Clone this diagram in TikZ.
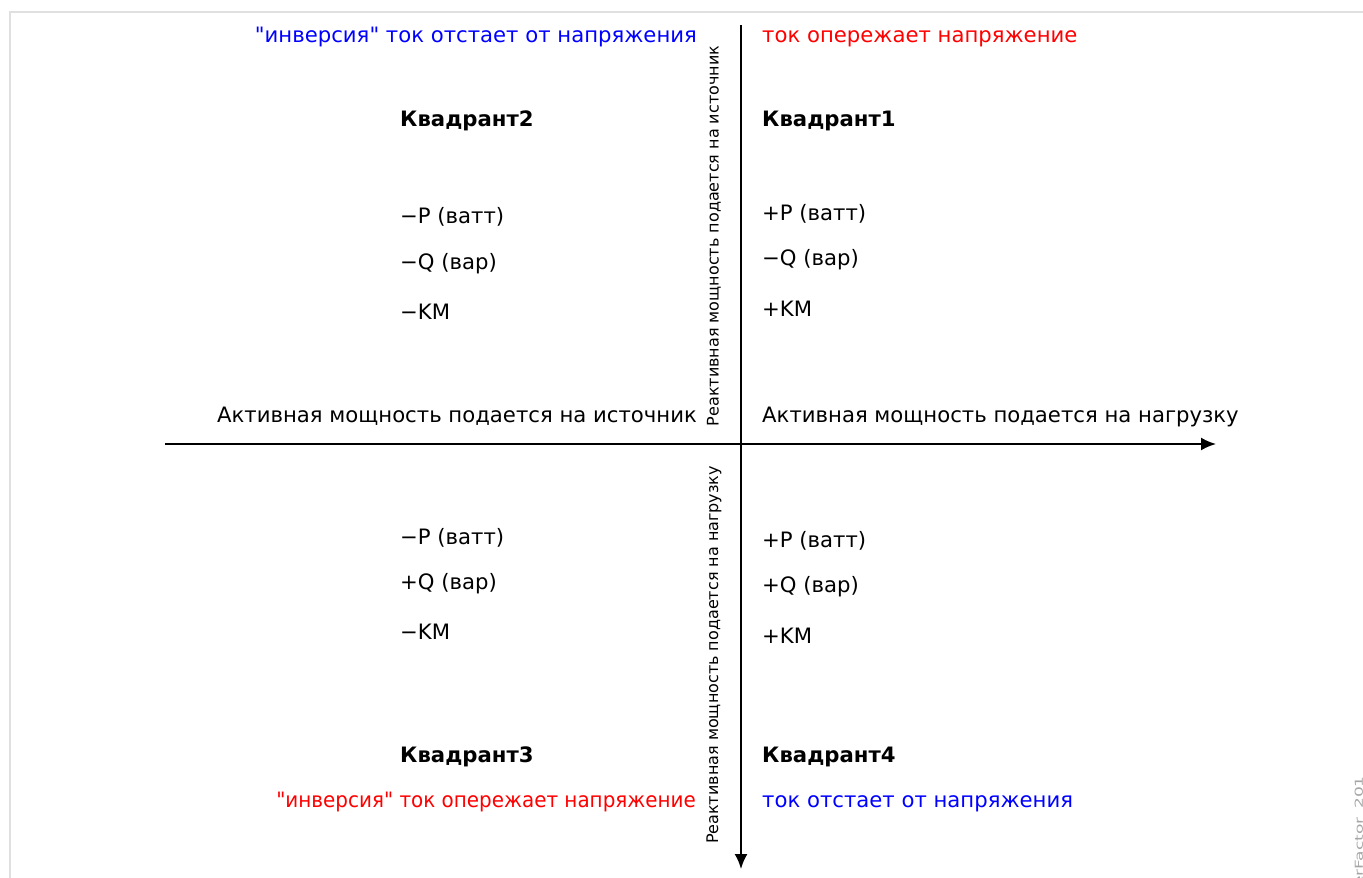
\documentclass[tikz,border=0pt]{standalone}
\usepackage{graphicx}
\usepackage{fontspec}
\setmainfont{DejaVu Sans}[Ligatures=TeXOff]
\usetikzlibrary{arrows.meta, positioning}

\begin{document}
\begin{tikzpicture}[
      x=1pt, y=-1pt,
      lbl/.style={font=\fontsize{21.2}{25}\selectfont, inner sep=0pt},
      quad/.style={font=\fontsize{21.2}{25}\selectfont\bfseries, inner sep=0pt},
      axlbl/.style={font=\fontsize{16}{19}\selectfont, inner sep=0pt, rotate=90},
      axis/.style={-{Latex[length=15pt,width=13pt]}, line width=2pt}
    ]
    \useasboundingbox (0,0) rectangle (1363,878);
    \draw[black!12, line width=2pt] (10,12) rectangle (1400,920);
    \node[font=\fontsize{11}{12}\selectfont, text=black!35, inner sep=0pt, rotate=90, anchor=east] (tag) at (1360,776) {\scalebox{1.55}[1]{PowerFactor\_201}};

    \coordinate (xstart) at (165,444);
    \coordinate (xend) at (1216,444);
    \coordinate (ystart) at (741,25);
    \coordinate (yend) at (741,869);
    \draw[axis] (xstart) -- (xend);
    \draw[axis] (ystart) -- (yend);

    \node[axlbl] (srcq) at (714,236) {Реактивная мощность подается на источник};
    \node[axlbl] (loadq) at (714,655) {Реактивная мощность подается на нагрузку};
    \node[lbl, anchor=base east] (srcp) at (697,422) {Активная мощность подается на источник};
    \node[lbl, anchor=base west] (loadp) at (762,422) {Активная мощность подается на нагрузку};

    \node[lbl, anchor=base east, text=blue] (note2) at (697,42) {"инверсия" ток отстает от напряжения};
    \node[lbl, anchor=base west, text=red] (note1) at (762,42) {ток опережает напряжение};
    \node[lbl, anchor=base east, text=red] (note3) at (696,807) {\scalebox{0.94}[1]{"инверсия" ток опережает напряжение}};
    \node[lbl, anchor=base west, text=blue] (note4) at (762,807) {ток отстает от напряжения};

    \node[quad, anchor=base west] (q1) at (762,126) {Квадрант1};
    \node[quad, anchor=base west] (q2) at (400,126) {Квадрант2};
    \node[quad, anchor=base west] (q3) at (400,762) {Квадрант3};
    \node[quad, anchor=base west] (q4) at (762,762) {Квадрант4};

    \node[lbl, anchor=base west] (p1) at (762,220) {+P (ватт)};
    \node[lbl, anchor=base west] (r1) at (762,265) {−Q (вар)};
    \node[lbl, anchor=base west] (k1) at (762,316) {+KM};
    \node[lbl, anchor=base west] (p2) at (400,223) {−P (ватт)};
    \node[lbl, anchor=base west] (r2) at (400,269) {−Q (вар)};
    \node[lbl, anchor=base west] (k2) at (400,319) {−KM};
    \node[lbl, anchor=base west] (p3) at (400,544) {−P (ватт)};
    \node[lbl, anchor=base west] (r3) at (400,589) {+Q (вар)};
    \node[lbl, anchor=base west] (k3) at (400,639) {−KM};
    \node[lbl, anchor=base west] (p4) at (762,547) {+P (ватт)};
    \node[lbl, anchor=base west] (r4) at (762,592) {+Q (вар)};
    \node[lbl, anchor=base west] (k4) at (762,643) {+KM};
  \end{tikzpicture}
\end{document}
